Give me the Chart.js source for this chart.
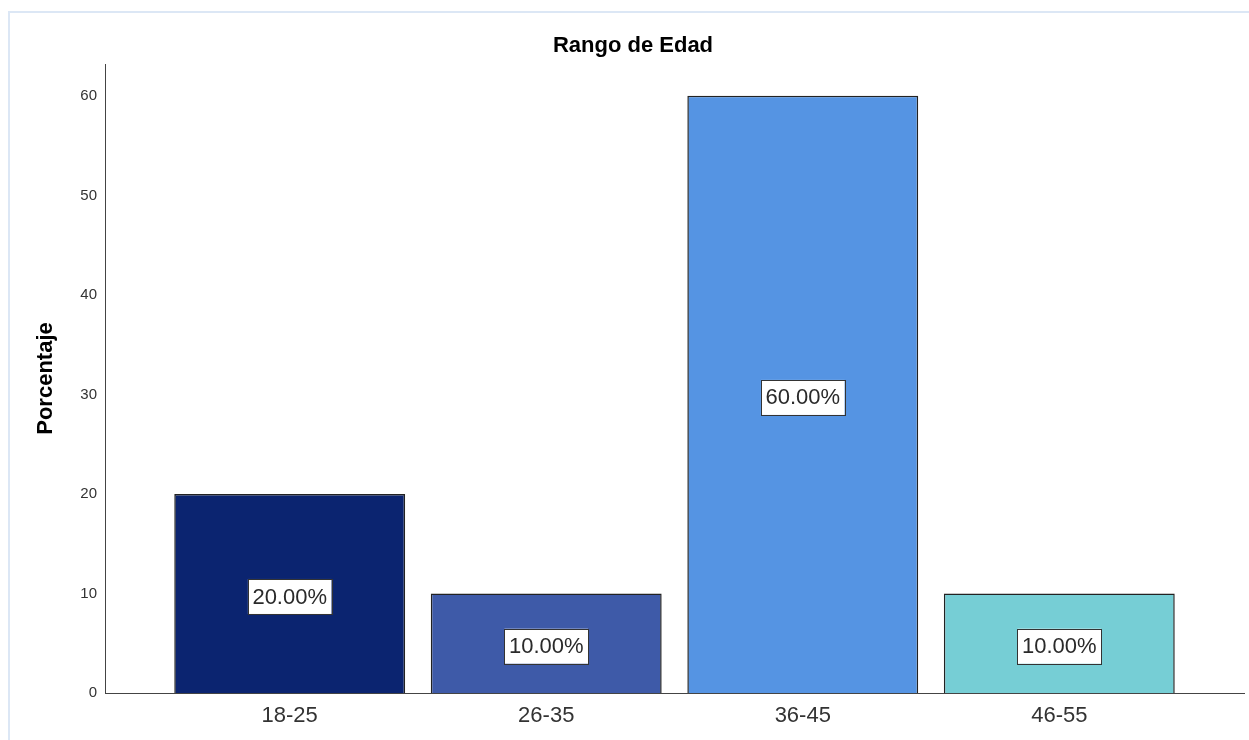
<!DOCTYPE html>
<html>
<head>
<meta charset="utf-8">
<script src="https://cdn.jsdelivr.net/npm/chart.js@4/dist/chart.umd.min.js"></script>
<style>
  html, body { margin: 0; padding: 0; background: #fff; }
  #wrap { position: relative; width: 1249px; height: 740px; }
</style>
</head>
<body>
<div id="wrap"><canvas id="chart" width="1249" height="740"></canvas></div>
<script>
const ageRanges = ['18-25', '26-35', '36-45', '46-55'],
    percentages = [20, 10, 60, 10],
    barColors = ['#0b2470', '#3e5aa8', '#5594e3', '#76ced5'],
    yTicks = [0, 10, 20, 30, 40, 50, 60];

const chartTitle = 'Rango de Edad',
    yTitle = 'Porcentaje';

// frame, title and the y axis caption
const decorations = {
    id: 'decorations',
    beforeDraw(chart) {
        const ctx = chart.ctx;
        ctx.save();
        ctx.strokeStyle = '#dce7f5';
        ctx.lineWidth = 2;
        ctx.beginPath();
        ctx.moveTo(9, 740);
        ctx.lineTo(9, 12);
        ctx.lineTo(1249, 12);
        ctx.stroke();
        ctx.restore();
    },
    afterDraw(chart) {
        const ctx = chart.ctx;
        const area = chart.chartArea;
        ctx.save();
        ctx.fillStyle = '#000';
        ctx.font = 'bold 22px "Liberation Sans", Arial, sans-serif';
        ctx.textAlign = 'center';
        ctx.textBaseline = 'middle';
        ctx.fillText(chartTitle, 633, 46);

        ctx.translate(46, (area.top + area.bottom) / 2);
        ctx.rotate(-Math.PI / 2);
        ctx.fillText(yTitle, 0, 0);
        ctx.restore();
    }
};

// boxed value label in the middle of each bar
const valueBoxes = {
    id: 'valueBoxes',
    afterDatasetsDraw(chart) {
        const ctx = chart.ctx;
        const meta = chart.getDatasetMeta(0);
        ctx.save();
        ctx.font = '22px "Liberation Sans", Arial, sans-serif';
        ctx.textAlign = 'center';
        ctx.textBaseline = 'middle';
        meta.data.forEach((bar, i) => {
            const text = percentages[i].toFixed(2) + '%';
            const cx = bar.x;
            const cy = (bar.y + bar.base) / 2 + 3;
            const w = ctx.measureText(text).width + 9;
            const h = 35;
            ctx.fillStyle = '#fff';
            ctx.fillRect(cx - w / 2, cy - h / 2, w, h);
            ctx.strokeStyle = '#333';
            ctx.lineWidth = 1;
            ctx.strokeRect(Math.round(cx - w / 2) + 0.5, Math.round(cy - h / 2) + 0.5, Math.round(w), h);
            ctx.fillStyle = '#2a2a2a';
            ctx.fillText(text, cx, cy + 1);
        });
        ctx.restore();
    }
};

const ctx = document.getElementById('chart').getContext('2d');

new Chart(ctx, {
    type: 'bar',
    data: {
        datasets: [{
            data: percentages.map((v, i) => ({ x: i, y: v })),
            backgroundColor: barColors,
            borderColor: '#222',
            borderWidth: 1.5,
            barPercentage: 0.9,
            categoryPercentage: 1
        }]
    },
    options: {
        responsive: false,
        animation: false,
        devicePixelRatio: 1,
        layout: { padding: { left: 0, right: 5, top: 64, bottom: 0 } },
        plugins: {
            legend: { display: false },
            tooltip: { enabled: false },
            title: { display: false }
        },
        scales: {
            x: {
                type: 'linear',
                min: -0.72,
                max: 3.72,
                offset: false,
                grid: { display: false, drawTicks: false, offset: false },
                border: { display: true, color: '#444', width: 1 },
                afterFit(scale) { scale.height = 47; },
                ticks: {
                    stepSize: 1,
                    includeBounds: false,
                    padding: 10,
                    color: '#333',
                    font: { family: '"Liberation Sans", Arial, sans-serif', size: 22 },
                    callback: v => ageRanges[v] ?? ''
                }
            },
            y: {
                min: 0,
                max: 63.2,
                grid: { display: false, drawTicks: false },
                border: { display: true, color: '#444', width: 1 },
                afterFit(scale) { scale.width = 105; },
                afterBuildTicks(scale) { scale.ticks = yTicks.map(v => ({ value: v })); },
                ticks: {
                    padding: 8,
                    color: '#333',
                    font: { family: '"Liberation Sans", Arial, sans-serif', size: 15 }
                }
            }
        }
    },
    plugins: [decorations, valueBoxes]
});
</script>
</body>
</html>
